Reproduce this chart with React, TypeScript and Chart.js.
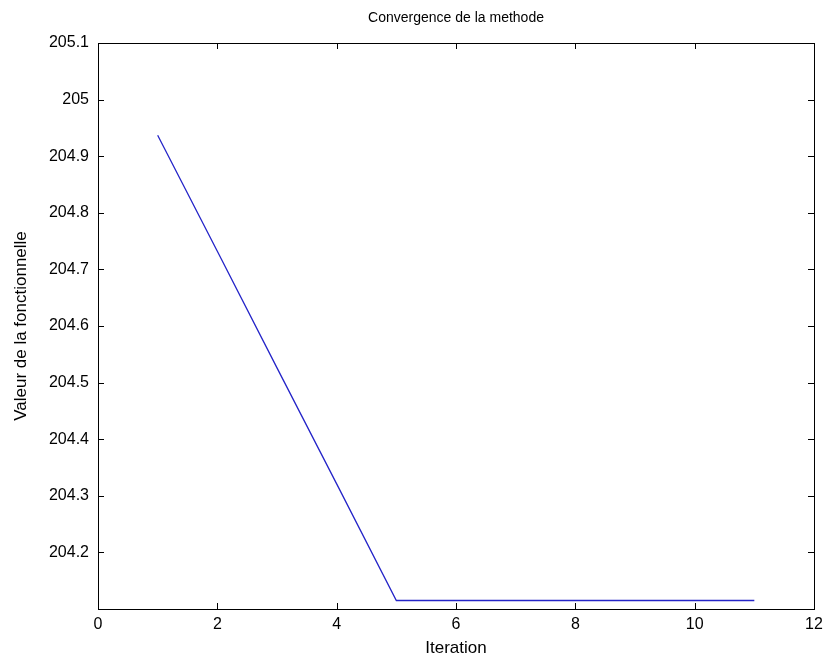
import React, { useEffect, useRef } from "react";
import { Chart, registerables } from "chart.js";

Chart.register(...registerables);

const iterations = [1, 2, 3, 4, 5, 6, 7, 8, 9, 10, 11];
const values = [204.937, 204.732, 204.526, 204.321, 204.115, 204.115, 204.115, 204.115, 204.115, 204.115, 204.115];
const yTickValues = [204.2, 204.3, 204.4, 204.5, 204.6, 204.7, 204.8, 204.9, 205.0, 205.1];
const xTickValues = [0, 2, 4, 6, 8, 10, 12];

const TITLE = "Convergence de la methode";
const X_TITLE = "Iteration";
const Y_TITLE = "Valeur de la fonctionnelle";

const FONT = "'Liberation Sans', Arial, Helvetica, sans-serif";

const matlabBox = {
  id: "matlabBox",
  afterDraw(chart: any) {
    const { ctx, chartArea } = chart;
    const { left, right, top, bottom } = chartArea;
    const xs = chart.scales.x;
    const ys = chart.scales.y;
    ctx.save();
    ctx.strokeStyle = "#000";
    ctx.lineWidth = 1;
    ctx.strokeRect(Math.round(left) + 0.5, Math.round(top) + 0.5, Math.round(right - left), Math.round(bottom - top));
    const tl = 6;
    ctx.beginPath();
    xs.ticks.forEach((t: any) => {
      const px = Math.round(xs.getPixelForValue(t.value)) + 0.5;
      ctx.moveTo(px, bottom);
      ctx.lineTo(px, bottom - tl);
      ctx.moveTo(px, top);
      ctx.lineTo(px, top + tl);
    });
    ys.ticks.forEach((t: any) => {
      const py = Math.round(ys.getPixelForValue(t.value)) + 0.5;
      ctx.moveTo(left, py);
      ctx.lineTo(left + tl, py);
      ctx.moveTo(right, py);
      ctx.lineTo(right - tl, py);
    });
    ctx.stroke();
    ctx.restore();
  },
};

export default function App() {
  const ref = useRef<HTMLCanvasElement | null>(null);

  useEffect(() => {
    document.body.style.margin = "0";
    const canvas = ref.current;
    if (!canvas) return;
    const chart = new Chart(canvas, {
      type: "line",
      data: {
        datasets: [
          {
            data: iterations.map((x, i) => ({ x, y: values[i] })),
            borderColor: "#2424c8",
            borderWidth: 1.3,
            pointRadius: 0,
            tension: 0,
            fill: false,
          },
        ],
      },
      options: {
        animation: false,
        responsive: false,
        devicePixelRatio: 1,
        layout: { padding: { left: 0, right: 12, top: 0, bottom: 0 } },
        plugins: {
          legend: { display: false },
          tooltip: { enabled: false },
          title: {
            display: true,
            text: TITLE,
            fullSize: false,
            color: "#000",
            font: { family: FONT, size: 14, weight: "normal" },
            padding: { top: 10, bottom: 16.2 },
          },
        },
        scales: {
          x: {
            type: "linear",
            min: 0,
            max: 12,
            grid: { display: false, drawTicks: false },
            border: { display: false },
            afterBuildTicks: (scale: any) => {
              scale.ticks = xTickValues.map((v) => ({ value: v }));
            },
            afterFit: (scale: any) => {
              scale.height = 53;
              scale.paddingRight = 0;
              scale.paddingLeft = 0;
            },
            ticks: {
              color: "#000",
              font: { family: FONT, size: 16 },
              padding: 6,
              maxRotation: 0,
              autoSkip: false,
              callback: (v: any) => String(v),
            },
            title: {
              display: true,
              text: X_TITLE,
              color: "#000",
              font: { family: FONT, size: 17 },
              padding: { top: 4, bottom: 3 },
            },
          },
          y: {
            type: "linear",
            min: 204.1,
            max: 205.1,
            grid: { display: false, drawTicks: false },
            border: { display: false },
            afterBuildTicks: (scale: any) => {
              scale.ticks = yTickValues.map((v) => ({ value: v }));
            },
            afterFit: (scale: any) => {
              scale.width = 98;
            },
            ticks: {
              color: "#000",
              font: { family: FONT, size: 16 },
              padding: 9,
              autoSkip: false,
              callback: (v: any) => String(Number(Number(v).toFixed(1))),
            },
            title: {
              display: true,
              text: Y_TITLE,
              color: "#000",
              font: { family: FONT, size: 17 },
              padding: { top: 11, bottom: 4 },
            },
          },
        },
      },
      plugins: [matlabBox],
    });
    return () => chart.destroy();
  }, []);

  return (
    <div style={{ width: 826, height: 662, background: "#fff" }}>
      <canvas ref={ref} width={826} height={662} style={{ display: "block" }} />
    </div>
  );
}
